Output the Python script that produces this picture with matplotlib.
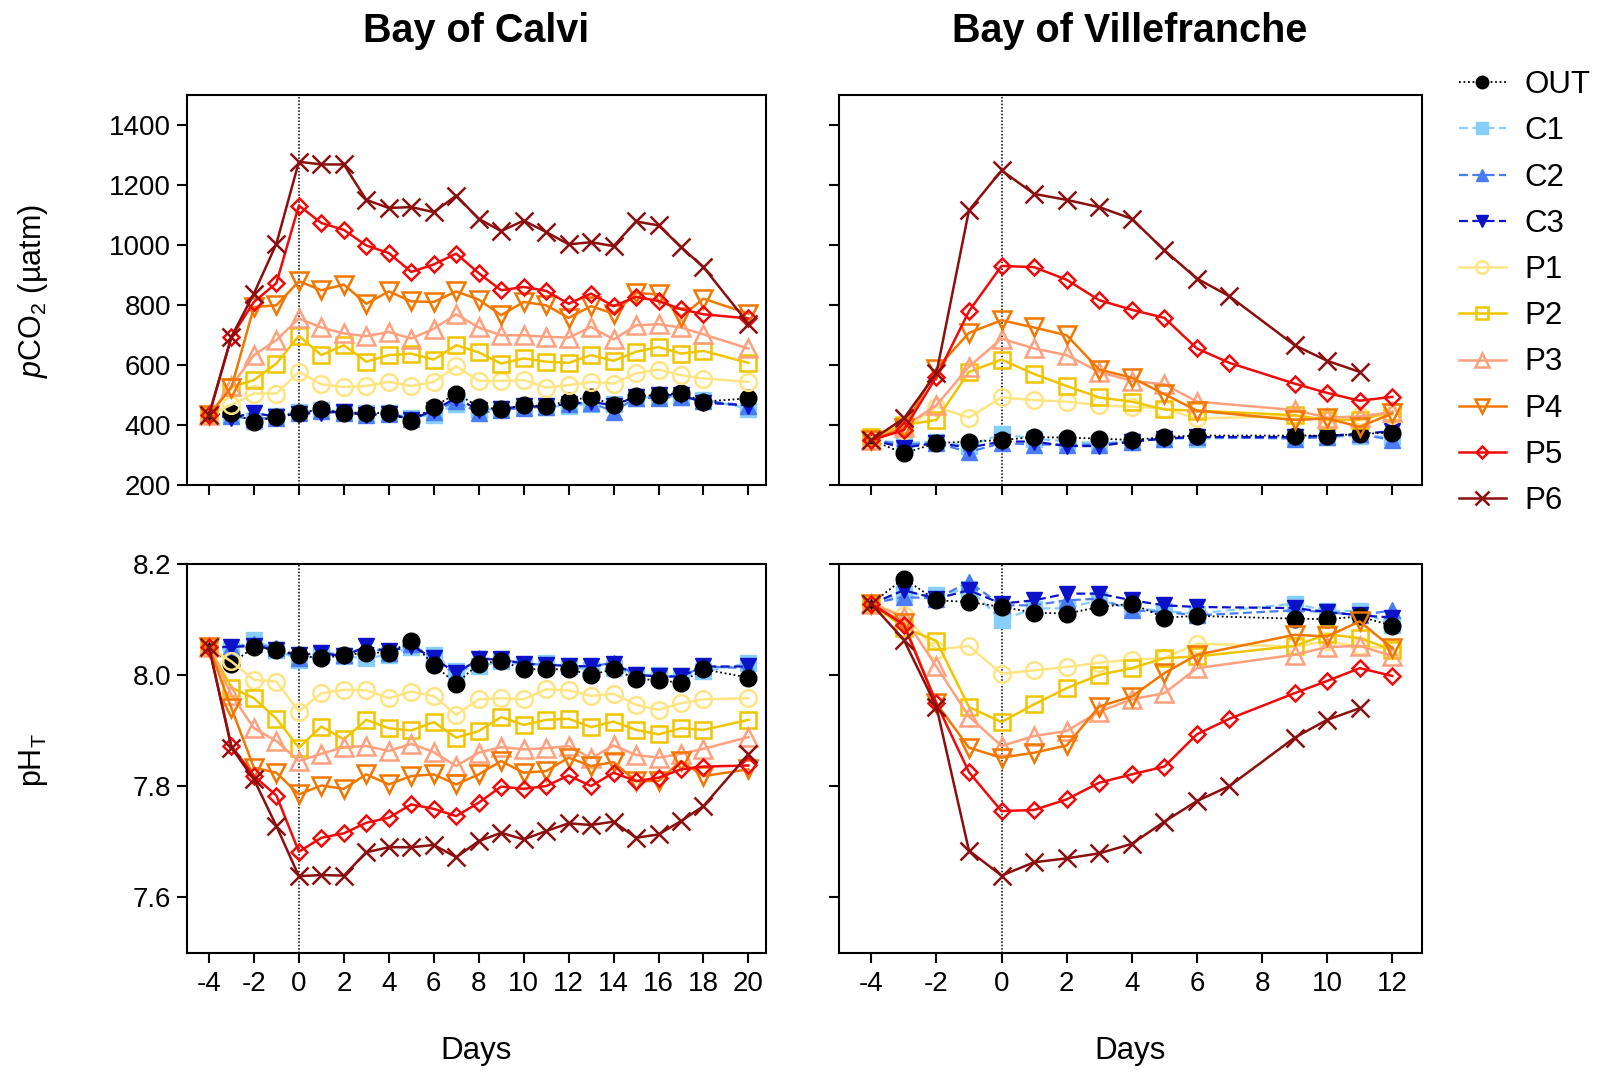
import matplotlib
matplotlib.use("Agg")
import matplotlib.pyplot as plt
from matplotlib.lines import Line2D

plt.rcParams['font.family'] = ['Liberation Sans', 'DejaVu Sans']
plt.rcParams['mathtext.fontset'] = 'custom'
plt.rcParams['mathtext.rm'] = 'Liberation Sans'
plt.rcParams['mathtext.it'] = 'Liberation Sans:italic'
plt.rcParams['mathtext.bf'] = 'Liberation Sans:bold'

# ---------------- data ----------------
series_names = ["OUT", "C1", "C2", "C3", "P1", "P2", "P3", "P4", "P5", "P6"]

calvi_days = [-4, -3, -2, -1, 0, 1, 2, 3, 4, 5, 6, 7, 8, 9, 10, 11, 12, 13, 14, 15, 16, 17, 18, 20]

calvi_pco2_OUT = [433, 441, 411, 428, 441, 452, 441, 439, 441, 414, 461, 505, 461, 452, 466, 463, 481, 494, 466, 496, 500, 507, 478, 489]
calvi_pco2_C1 = [433, 433, 415, 430, 445, 450, 445, 440, 440, 425, 435, 470, 450, 455, 460, 460, 465, 470, 470, 490, 495, 495, 485, 455]
calvi_pco2_C2 = [433, 430, 420, 425, 440, 448, 440, 435, 438, 420, 445, 480, 440, 450, 458, 460, 470, 475, 445, 490, 490, 495, 480, 465]
calvi_pco2_C3 = [433, 425, 440, 428, 438, 440, 445, 432, 438, 418, 450, 490, 450, 455, 462, 462, 470, 478, 465, 495, 500, 500, 475, 465]
calvi_pco2_P1 = [433, 468, 505, 505, 577, 536, 527, 530, 544, 530, 544, 596, 547, 547, 550, 525, 533, 544, 538, 572, 585, 566, 555, 544]
calvi_pco2_P2 = [433, 527, 550, 605, 697, 633, 666, 611, 633, 638, 618, 666, 642, 605, 622, 611, 607, 633, 614, 644, 660, 638, 647, 607]
calvi_pco2_P3 = [433, 530, 633, 683, 755, 725, 705, 696, 710, 688, 721, 769, 725, 699, 699, 694, 691, 727, 685, 732, 736, 725, 702, 655]
calvi_pco2_P4 = [433, 525, 793, 799, 879, 849, 868, 804, 845, 812, 810, 845, 818, 766, 810, 799, 757, 796, 771, 840, 835, 760, 821, 771]
calvi_pco2_P5 = [433, 694, 810, 873, 1131, 1073, 1050, 998, 973, 910, 935, 971, 906, 849, 860, 847, 804, 838, 796, 827, 813, 786, 769, 755]
calvi_pco2_P6 = [433, 694, 838, 1004, 1277, 1268, 1268, 1150, 1123, 1126, 1109, 1164, 1087, 1046, 1081, 1043, 1002, 1009, 996, 1078, 1065, 993, 926, 738]

calvi_ph_OUT = [8.05, 8.02, 8.05, 8.045, 8.035, 8.03, 8.035, 8.04, 8.04, 8.06, 8.018, 7.984, 8.02, 8.025, 8.01, 8.01, 8.01, 8.0, 8.01, 7.993, 7.99, 7.986, 8.01, 7.995]
calvi_ph_C1 = [8.05, 8.045, 8.063, 8.045, 8.027, 8.036, 8.033, 8.03, 8.036, 8.05, 8.036, 8.006, 8.015, 8.024, 8.018, 8.021, 8.015, 8.009, 8.012, 8.0, 8.0, 7.997, 8.006, 8.021]
calvi_ph_C2 = [8.05, 8.05, 8.055, 8.048, 8.03, 8.04, 8.036, 8.05, 8.04, 8.055, 8.03, 8.0, 8.03, 8.028, 8.02, 8.018, 8.016, 8.015, 8.022, 8.0, 7.997, 7.997, 8.015, 8.012]
calvi_ph_C3 = [8.05, 8.05, 8.052, 8.045, 8.036, 8.039, 8.033, 8.051, 8.042, 8.052, 8.03, 8.003, 8.028, 8.028, 8.02, 8.018, 8.016, 8.015, 8.02, 8.0, 7.997, 7.997, 8.015, 8.015]
calvi_ph_P1 = [8.05, 8.024, 7.991, 7.988, 7.934, 7.967, 7.973, 7.972, 7.958, 7.97, 7.962, 7.928, 7.956, 7.958, 7.956, 7.974, 7.972, 7.962, 7.966, 7.946, 7.937, 7.949, 7.956, 7.958]
calvi_ph_P2 = [8.05, 7.977, 7.958, 7.921, 7.869, 7.907, 7.884, 7.919, 7.904, 7.9, 7.915, 7.887, 7.899, 7.924, 7.91, 7.919, 7.921, 7.906, 7.916, 7.901, 7.893, 7.904, 7.901, 7.919]
calvi_ph_P3 = [8.05, 7.964, 7.904, 7.881, 7.845, 7.858, 7.87, 7.872, 7.863, 7.876, 7.861, 7.836, 7.86, 7.87, 7.866, 7.868, 7.872, 7.85, 7.873, 7.856, 7.851, 7.858, 7.867, 7.888]
calvi_ph_P4 = [8.05, 7.94, 7.833, 7.824, 7.785, 7.801, 7.795, 7.821, 7.803, 7.818, 7.821, 7.803, 7.821, 7.845, 7.824, 7.827, 7.851, 7.836, 7.843, 7.809, 7.809, 7.845, 7.818, 7.83]
calvi_ph_P5 = [8.05, 7.872, 7.818, 7.783, 7.682, 7.707, 7.715, 7.734, 7.743, 7.767, 7.759, 7.746, 7.77, 7.799, 7.795, 7.8, 7.819, 7.8, 7.824, 7.809, 7.815, 7.83, 7.835, 7.837]
calvi_ph_P6 = [8.05, 7.869, 7.812, 7.728, 7.638, 7.64, 7.639, 7.681, 7.69, 7.69, 7.694, 7.672, 7.701, 7.716, 7.704, 7.719, 7.733, 7.73, 7.736, 7.707, 7.713, 7.737, 7.764, 7.857]

ville_days = [-4, -3, -2, -1, 0, 1, 2, 3, 4, 5, 6, 9, 10, 11, 12]
ville_days_P5 = [-4, -3, -2, -1, 0, 1, 2, 3, 4, 5, 6, 7, 9, 10, 11, 12]
ville_days_P6 = [-4, -3, -2, -1, 0, 1, 2, 3, 4, 5, 6, 7, 9, 10, 11]

ville_pco2_OUT = [350, 306, 340, 345, 350, 360, 358, 355, 350, 360, 365, 365, 365, 370, 375]
ville_pco2_C1 = [350, 340, 345, 330, 370, 355, 345, 340, 345, 355, 355, 360, 360, 365, 360]
ville_pco2_C2 = [350, 335, 340, 310, 340, 335, 335, 335, 345, 355, 360, 355, 360, 370, 350]
ville_pco2_C3 = [350, 325, 340, 325, 345, 345, 330, 330, 345, 355, 360, 360, 365, 370, 380]
ville_pco2_P1 = [350, 383, 461, 425, 492, 483, 478, 466, 461, 455, 422, 430, 417, 430, 433]
ville_pco2_P2 = [359, 400, 417, 577, 618, 570, 530, 492, 478, 452, 448, 433, 417, 417, 445]
ville_pco2_P3 = [350, 394, 466, 594, 688, 655, 633, 577, 547, 536, 478, 450, 425, 428, 444]
ville_pco2_P4 = [350, 390, 588, 707, 749, 725, 699, 585, 558, 503, 448, 417, 422, 394, 439]
ville_pco2_P5 = [350, 383, 561, 779, 930, 926, 884, 816, 784, 757, 655, 607, 538, 507, 481, 494]
ville_pco2_P6 = [350, 422, 572, 1115, 1248, 1170, 1150, 1126, 1087, 982, 888, 829, 666, 614, 577]

ville_ph_OUT = [8.128, 8.173, 8.134, 8.131, 8.122, 8.112, 8.11, 8.122, 8.128, 8.103, 8.106, 8.101, 8.1, 8.105, 8.088]
ville_ph_C1 = [8.128, 8.146, 8.143, 8.155, 8.099, 8.119, 8.12, 8.134, 8.12, 8.115, 8.11, 8.128, 8.115, 8.115, 8.09]
ville_ph_C2 = [8.128, 8.14, 8.137, 8.167, 8.125, 8.125, 8.134, 8.137, 8.116, 8.113, 8.107, 8.116, 8.113, 8.107, 8.116]
ville_ph_C3 = [8.128, 8.152, 8.137, 8.152, 8.128, 8.134, 8.146, 8.146, 8.134, 8.125, 8.122, 8.12, 8.113, 8.107, 8.103]
ville_ph_P1 = [8.128, 8.107, 8.045, 8.052, 8.002, 8.008, 8.014, 8.022, 8.027, 8.03, 8.056, 8.051, 8.06, 8.051, 8.048]
ville_ph_P2 = [8.128, 8.085, 8.061, 7.942, 7.915, 7.947, 7.976, 8.0, 8.012, 8.03, 8.033, 8.052, 8.073, 8.066, 8.045]
ville_ph_P3 = [8.128, 8.104, 8.015, 7.925, 7.872, 7.89, 7.899, 7.934, 7.956, 7.967, 8.012, 8.036, 8.05, 8.052, 8.034]
ville_ph_P4 = [8.128, 8.093, 7.949, 7.869, 7.851, 7.86, 7.873, 7.943, 7.961, 8.003, 8.036, 8.072, 8.069, 8.096, 8.048]
ville_ph_P5 = [8.128, 8.09, 7.949, 7.825, 7.755, 7.757, 7.776, 7.806, 7.821, 7.835, 7.893, 7.921, 7.967, 7.989, 8.012, 7.998]
ville_ph_P6 = [8.128, 8.063, 7.943, 7.684, 7.639, 7.663, 7.67, 7.679, 7.696, 7.736, 7.773, 7.8, 7.887, 7.919, 7.94]

titles = ["Bay of Calvi", "Bay of Villefranche"]
calvi_xticks = [-4, -2, 0, 2, 4, 6, 8, 10, 12, 14, 16, 18, 20]
ville_xticks = [-4, -2, 0, 2, 4, 6, 8, 10, 12]
pco2_yticks = [200, 400, 600, 800, 1000, 1200, 1400]
ph_yticks = [7.6, 7.8, 8.0, 8.2]

# ---------------- styles ----------------
styles = {
    "OUT": dict(color="black", marker="o", ls=(0, (1, 1.5)), lw=1.3, ms=12, mfc="black", mec="black"),
    "C1": dict(color="#87CEFA", marker="s", ls=(0, (4, 2)), lw=1.6, ms=12, mfc="#87CEFA", mec="#87CEFA"),
    "C2": dict(color="#4A7CF5", marker="^", ls=(0, (4, 2)), lw=1.6, ms=12, mfc="#4A7CF5", mec="#4A7CF5"),
    "C3": dict(color="#0B12C8", marker="v", ls=(0, (4, 2)), lw=1.6, ms=12, mfc="#0B12C8", mec="#0B12C8"),
    "P1": dict(color="#FFE483", marker="o", ls="-", lw=1.8, ms=12, mfc="none", mec="#FFE483", mew=1.8),
    "P2": dict(color="#EFC500", marker="s", ls="-", lw=1.8, ms=11.5, mfc="none", mec="#EFC500", mew=1.8),
    "P3": dict(color="#FFA07E", marker="^", ls="-", lw=1.8, ms=13, mfc="none", mec="#FFA07E", mew=1.8),
    "P4": dict(color="#F27700", marker="v", ls="-", lw=1.8, ms=13, mfc="none", mec="#F27700", mew=1.8),
    "P5": dict(color="#F00A0A", marker="D", ls="-", lw=1.8, ms=8.5, mfc="none", mec="#F00A0A", mew=1.8),
    "P6": dict(color="#8B0F0F", marker="x", ls="-", lw=1.8, ms=13, mec="#8B0F0F", mew=1.8),
}
draw_order = ["C1", "C2", "C3", "OUT", "P1", "P2", "P3", "P4", "P5", "P6"]

g = globals()

def days_for(site, name):
    if site == "calvi":
        return calvi_days
    if name == "P5":
        return ville_days_P5
    if name == "P6":
        return ville_days_P6
    return ville_days

W, H = 1598, 1072
fig = plt.figure(figsize=(W / 100, H / 100), dpi=100)

def box(l, r, t, b):
    return [l / W, 1 - b / H, (r - l) / W, (b - t) / H]

positions = {
    ("calvi", "pco2"): box(186.5, 766.4, 94.8, 485.1),
    ("ville", "pco2"): box(838.7, 1421.6, 94.8, 485.1),
    ("calvi", "ph"): box(186.5, 766.4, 563.6, 952.9),
    ("ville", "ph"): box(838.7, 1421.6, 563.6, 952.9),
}

axes = {}
for (site, var), pos in positions.items():
    ax = fig.add_axes(pos)
    axes[(site, var)] = ax
    ax.axvline(0, color="black", ls=(0, (1, 1.2)), lw=1.1, zorder=1)
    for name in draw_order:
        y = g[f"{site}_{var}_{name}"]
        st = styles[name]
        ax.plot(days_for(site, name), y, label=name, zorder=3, **st)
    if site == "calvi":
        ax.set_xlim(-5, 20.8)
        ax.set_xticks(calvi_xticks)
    else:
        ax.set_xlim(-5, 12.9)
        ax.set_xticks(ville_xticks)
    ax.tick_params(axis="both", direction="out", length=7, width=1.5, labelsize=20, pad=4)
    ax.tick_params(axis="x", pad=6)
    if var == "pco2":
        ax.set_ylim(200, 1500)
        ax.set_yticks(pco2_yticks)
        ax.tick_params(axis="x", labelbottom=False)
    else:
        ax.set_ylim(7.5, 8.2)
        ax.set_yticks(ph_yticks)
        ax.set_yticklabels([f"{v:.1f}" for v in ph_yticks])
        ax.set_xticklabels([str(v) for v in ax.get_xticks().astype(int)])
        ax.set_xlabel("Days", fontsize=22.5, labelpad=28)
    if site == "ville":
        ax.tick_params(axis="y", labelleft=False)
    for sp in ax.spines.values():
        sp.set_linewidth(1.5)

axes[("calvi", "pco2")].set_title(titles[0], fontsize=28.5, fontweight="bold", pad=38)
axes[("ville", "pco2")].set_title(titles[1], fontsize=28.5, fontweight="bold", pad=38)

fig.text(33 / W, 1 - 291 / H, r"$\mathit{p}$CO$_2$ (µatm)", rotation=90, fontsize=22,
         ha="center", va="center")
fig.text(33 / W, 1 - 760 / H, r"pH$_\mathrm{T}$", rotation=90, fontsize=22,
         ha="center", va="center")

handles = []
for name in series_names:
    st = dict(styles[name])
    st["ms"] = st["ms"] * 0.75
    handles.append(Line2D([], [], **st))
fig.legend(handles, series_names, loc="upper left", bbox_to_anchor=(1459 / W, 1 - 70 / H),
           frameon=False, fontsize=22.5, handlelength=1.5, handletextpad=0.6,
           labelspacing=0.52, borderpad=0, borderaxespad=0)

fig.savefig("out.png", dpi=100)
